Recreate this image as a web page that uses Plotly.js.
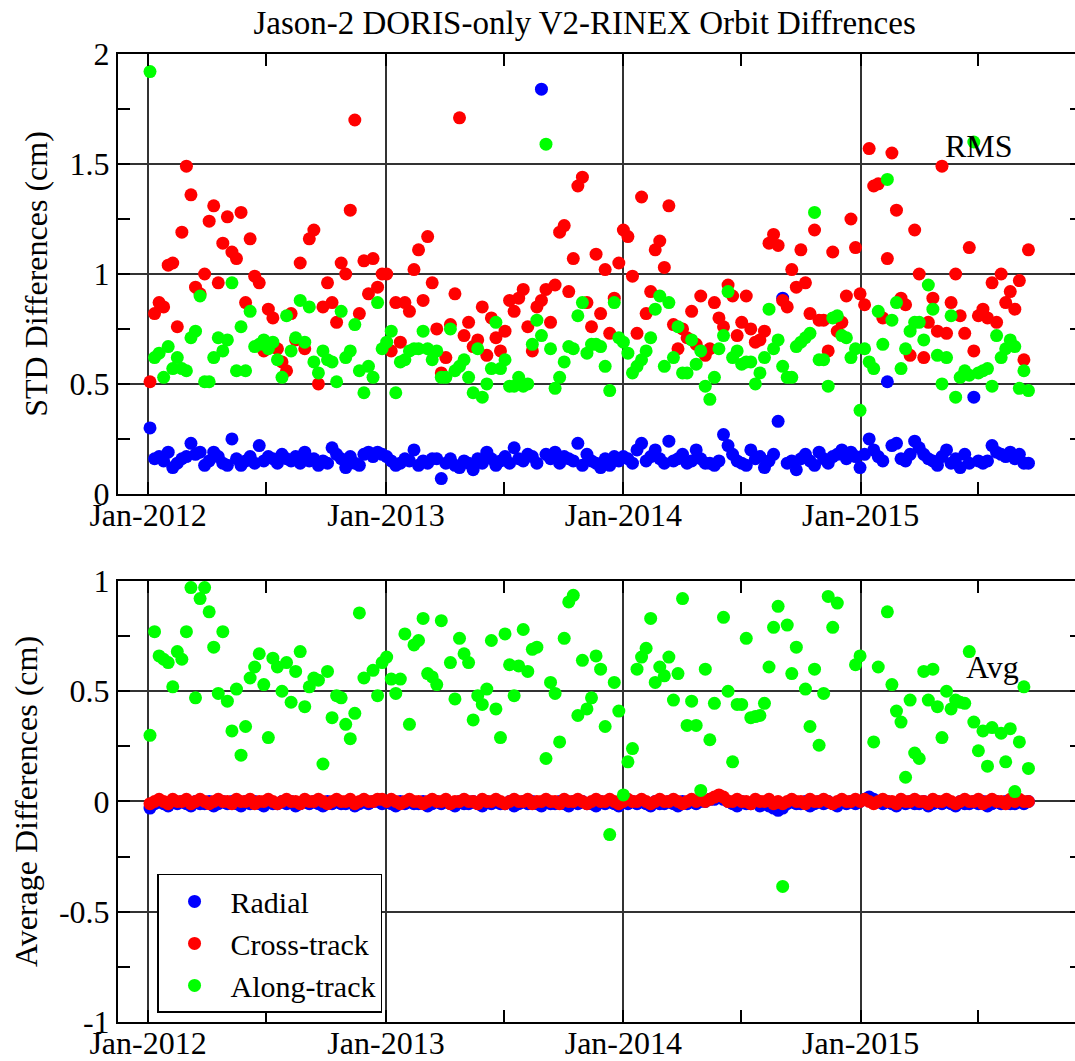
<!DOCTYPE html>
<html>
<head>
<meta charset="utf-8">
<script src="https://cdn.plot.ly/plotly-3.0.1.min.js"></script>
<style>
html,body{margin:0;padding:0;overflow:hidden;background:#fff;}
#chart{width:1084px;height:1061px;}
</style>
</head>
<body>
<div id="chart"></div>
<script>
// Weekly sample dates
const dates = [
'2012-01-04','2012-01-11','2012-01-18','2012-01-25','2012-02-01','2012-02-08','2012-02-15','2012-02-22','2012-02-29','2012-03-07',
'2012-03-14','2012-03-21','2012-03-28','2012-04-04','2012-04-11','2012-04-18','2012-04-25','2012-05-02','2012-05-09','2012-05-16',
'2012-05-23','2012-05-30','2012-06-06','2012-06-13','2012-06-20','2012-06-27','2012-07-04','2012-07-11','2012-07-18','2012-07-25',
'2012-08-01','2012-08-08','2012-08-15','2012-08-22','2012-08-29','2012-09-05','2012-09-12','2012-09-19','2012-09-26','2012-10-03',
'2012-10-10','2012-10-17','2012-10-24','2012-10-31','2012-11-07','2012-11-14','2012-11-21','2012-11-28','2012-12-05','2012-12-12',
'2012-12-19','2012-12-26','2013-01-02','2013-01-09','2013-01-16','2013-01-23','2013-01-30','2013-02-06','2013-02-13','2013-02-20',
'2013-02-27','2013-03-06','2013-03-13','2013-03-20','2013-03-27','2013-04-03','2013-04-10','2013-04-17','2013-04-24','2013-05-01',
'2013-05-08','2013-05-15','2013-05-22','2013-05-29','2013-06-05','2013-06-12','2013-06-19','2013-06-26','2013-07-03','2013-07-10',
'2013-07-17','2013-07-24','2013-07-31','2013-08-07','2013-08-14','2013-08-21','2013-08-28','2013-09-04','2013-09-11','2013-09-18',
'2013-09-25','2013-10-02','2013-10-09','2013-10-16','2013-10-23','2013-10-30','2013-11-06','2013-11-13','2013-11-20','2013-11-27',
'2013-12-04','2013-12-11','2013-12-18','2013-12-25','2014-01-01','2014-01-08','2014-01-15','2014-01-22','2014-01-29','2014-02-05',
'2014-02-12','2014-02-19','2014-02-26','2014-03-05','2014-03-12','2014-03-19','2014-03-26','2014-04-02','2014-04-09','2014-04-16',
'2014-04-23','2014-04-30','2014-05-07','2014-05-14','2014-05-21','2014-05-28','2014-06-04','2014-06-11','2014-06-18','2014-06-25',
'2014-07-02','2014-07-09','2014-07-16','2014-07-23','2014-07-30','2014-08-06','2014-08-13','2014-08-20','2014-08-27','2014-09-03',
'2014-09-10','2014-09-17','2014-09-24','2014-10-01','2014-10-08','2014-10-15','2014-10-22','2014-10-29','2014-11-05','2014-11-12',
'2014-11-19','2014-11-26','2014-12-03','2014-12-10','2014-12-17','2014-12-24','2014-12-31','2015-01-07','2015-01-14','2015-01-21',
'2015-01-28','2015-02-04','2015-02-11','2015-02-18','2015-02-25','2015-03-04','2015-03-11','2015-03-18','2015-03-25','2015-04-01',
'2015-04-08','2015-04-15','2015-04-22','2015-04-29','2015-05-06','2015-05-13','2015-05-20','2015-05-27','2015-06-03','2015-06-10',
'2015-06-17','2015-06-24','2015-07-01','2015-07-08','2015-07-15','2015-07-22','2015-07-29','2015-08-05','2015-08-12','2015-08-19',
'2015-08-26','2015-09-02','2015-09-09','2015-09-16'
];

// STD (RMS) differences, cm
const stdRadial = [
0.30,0.16,0.17,0.15,0.19,0.12,0.14,0.16,0.17,0.23, 0.18,0.19,0.13,0.15,0.19,0.17,0.14,0.13,0.25,0.16,
0.13,0.15,0.17,0.14,0.22,0.15,0.17,0.16,0.14,0.18, 0.16,0.15,0.17,0.14,0.19,0.15,0.16,0.13,0.15,0.14,
0.21,0.18,0.16,0.12,0.17,0.14,0.13,0.18,0.19,0.17, 0.19,0.18,0.17,0.15,0.13,0.14,0.16,0.15,0.20,0.13,
0.15,0.14,0.16,0.16,0.07,0.14,0.16,0.13,0.12,0.15, 0.14,0.11,0.16,0.14,0.19,0.16,0.13,0.15,0.17,0.14,
0.21,0.16,0.15,0.18,0.17,0.14,1.84,0.18,0.16,0.19, 0.14,0.17,0.16,0.15,0.23,0.13,0.18,0.15,0.14,0.12,
0.16,0.13,0.17,0.15,0.17,0.16,0.14,0.20,0.23,0.15, 0.17,0.20,0.16,0.14,0.24,0.15,0.16,0.18,0.14,0.15,
0.20,0.16,0.14,0.14,0.13,0.15,0.27,0.22,0.18,0.15, 0.14,0.13,0.20,0.16,0.17,0.12,0.15,0.18,0.33,0.89,
0.14,0.15,0.11,0.16,0.18,0.15,0.13,0.19,0.16,0.14, 0.17,0.18,0.20,0.16,0.19,0.17,0.12,0.18,0.25,0.20,
0.17,0.15,0.51,0.22,0.23,0.16,0.15,0.18,0.24,0.21, 0.18,0.16,0.15,0.13,0.17,0.20,0.14,0.16,0.12,0.18,
0.14,0.44,0.15,0.14,0.15,0.22,0.19,0.18,0.17,0.19, 0.16,0.18,0.14,0.14
];
const stdCross = [
0.51,0.82,0.87,0.85,1.04,1.05,0.76,1.19,1.49,1.36, 0.94,0.91,1.00,1.24,1.31,0.96,1.14,1.26,1.10,1.07,
1.28,0.87,1.16,0.99,0.96,0.65,0.84,0.80,0.66,0.60, 0.56,0.82,0.70,1.05,0.66,1.16,1.20,0.50,0.85,0.96,
0.87,0.78,1.05,1.00,1.29,1.70,0.82,1.06,0.91,1.07, 0.94,1.00,1.00,0.65,0.87,0.69,0.87,0.83,1.02,1.11,
0.88,1.17,0.96,0.75,0.55,0.62,0.77,0.91,1.71,0.72, 0.78,0.67,0.70,0.85,0.63,0.80,0.71,0.65,0.74,0.88,
0.83,0.89,0.93,0.76,0.65,0.85,0.88,0.93,0.78,0.95, 1.19,1.22,0.92,1.07,1.40,1.44,0.87,0.76,1.09,0.82,
1.02,0.73,0.89,1.05,1.20,1.17,0.99,0.73,1.35,0.82, 0.92,1.11,1.15,1.03,1.31,0.77,0.66,0.75,0.71,0.83,
0.68,0.90,0.63,0.66,0.87,0.80,0.76,0.95,0.90,0.72, 0.78,0.90,0.75,0.69,0.70,0.74,1.14,1.18,1.13,0.88,
0.85,1.02,0.94,1.11,0.96,0.82,1.20,0.79,0.79,0.65, 1.10,0.74,0.78,0.90,1.25,1.12,0.91,0.86,1.57,1.40,
1.41,0.80,1.07,1.55,1.29,0.89,0.86,0.63,1.20,1.00, 0.62,0.78,0.89,0.74,1.49,0.73,0.87,1.00,0.81,0.73,
1.12,0.65,0.81,0.84,0.80,0.96,0.78,1.00,0.87,0.92, 0.84,0.97,0.61,1.11
];
const stdAlong = [
1.92,0.62,0.64,0.53,0.67,0.57,0.62,0.57,0.56,0.71, 0.74,0.90,0.51,0.51,0.62,0.71,0.65,0.70,0.96,0.56,
0.76,0.56,0.83,0.67,0.68,0.70,0.66,0.69,0.61,0.53, 0.81,0.65,0.71,0.88,0.69,0.85,0.60,0.55,0.65,0.61,
0.60,0.51,0.83,0.62,0.65,0.77,0.56,0.46,0.58,0.53, 0.87,0.66,0.69,0.74,0.46,0.60,0.61,0.65,0.66,0.66,
0.74,0.66,0.61,0.65,0.53,0.53,0.75,0.56,0.58,0.61, 0.53,0.46,0.66,0.44,0.50,0.57,0.78,0.57,0.61,0.49,
0.49,0.53,0.49,0.50,0.68,0.79,0.72,1.59,0.66,0.48, 0.53,0.60,0.67,0.66,0.81,0.87,0.64,0.68,0.68,0.67,
0.58,0.47,0.87,0.71,0.69,0.64,0.55,0.58,0.61,0.65, 0.71,0.84,0.90,0.58,0.87,0.62,0.76,0.55,0.55,0.70,
0.59,0.65,0.49,0.43,0.53,0.66,0.72,0.92,0.62,0.65, 0.59,0.60,0.60,0.50,0.55,0.62,0.84,0.66,0.70,0.58,
0.53,0.53,0.67,0.69,0.71,0.73,1.28,0.61,0.61,0.49, 0.80,0.81,0.72,0.71,0.62,0.66,0.38,0.66,0.60,0.57,
0.83,0.68,1.43,0.79,0.87,0.57,0.66,0.74,0.78,0.78, 0.70,0.95,0.84,0.63,0.50,0.62,0.81,0.44,0.53,0.56,
0.54,1.60,0.55,0.56,0.57,0.49,0.72,0.62,0.66,0.70, 0.67,0.48,0.56,0.47
];

// Average differences, cm
const avgRadial = [
-0.03,-0.01,0.00,-0.01,-0.02,0.00,-0.01,0.00,-0.01,-0.02, 0.00,-0.01,-0.01,0.00,-0.02,-0.01,0.00,-0.01,0.00,-0.01,
-0.02,0.00,-0.01,0.00,-0.01,-0.02,0.00,-0.01,-0.01,0.00, -0.01,0.00,-0.02,-0.01,0.00,-0.01,0.00,-0.01,-0.02,0.00,
-0.01,0.00,-0.01,-0.01,0.00,-0.02,-0.01,0.00,-0.01,0.00, 0.00,-0.01,0.00,-0.01,-0.02,0.00,-0.01,0.00,-0.01,-0.01,
0.00,-0.02,-0.01,0.00,-0.01,0.00,-0.01,-0.02,0.00,-0.01, -0.01,0.00,-0.01,-0.02,0.00,-0.01,0.00,-0.01,-0.01,0.00,
-0.02,-0.01,0.00,-0.01,0.00,-0.01,-0.02,0.00,-0.01,-0.01, 0.00,-0.01,-0.02,0.00,-0.01,0.00,-0.01,-0.01,-0.02,0.00,
-0.01,0.00,-0.01,-0.02,0.00,-0.01,0.00,-0.01,0.00,-0.01, -0.02,0.00,-0.01,-0.01,0.00,-0.01,-0.02,0.00,-0.01,0.00,
-0.01,0.00,0.00,0.01,0.01,0.02,0.01,0.00,-0.01,-0.02, 0.00,-0.01,-0.01,0.00,-0.02,-0.01,-0.02,-0.03,-0.04,-0.03,
-0.01,0.00,-0.01,-0.01,0.00,-0.02,-0.01,0.00,-0.01,0.00, -0.01,-0.02,0.00,-0.01,0.00,-0.01,0.00,0.01,0.02,0.01,
0.00,-0.01,0.00,-0.01,-0.02,0.00,-0.01,0.00,-0.01,-0.01, 0.00,-0.02,-0.01,0.00,-0.01,0.00,-0.01,-0.02,0.00,-0.01,
-0.01,0.00,-0.01,0.00,-0.02,-0.01,0.00,-0.01,0.00,-0.01, -0.01,0.00,-0.01,0.00
];
const avgCross = [
-0.01,0.00,0.01,0.00,-0.01,0.01,0.00,0.00,0.01,-0.01, 0.00,0.01,0.00,-0.01,0.00,0.01,0.00,0.00,-0.01,0.01,
0.00,0.00,0.01,-0.01,0.00,0.00,0.01,0.00,-0.01,0.00, 0.01,0.00,0.00,-0.01,0.01,0.00,0.00,0.01,0.00,-0.01,
0.00,0.01,0.00,0.00,0.01,-0.01,0.00,0.01,0.00,0.00, 0.01,0.01,0.00,0.01,0.00,-0.01,0.00,0.01,0.00,0.00,
-0.01,0.00,0.01,0.00,0.00,0.01,-0.01,0.00,0.00,0.01, 0.00,0.00,-0.01,0.01,0.00,0.00,0.01,0.00,-0.01,0.00,
0.01,0.00,0.00,0.01,-0.01,0.00,0.00,0.01,0.00,0.00, -0.01,0.01,0.00,0.00,0.01,0.00,-0.01,0.00,0.01,0.00,
0.00,0.01,0.00,-0.01,0.00,0.01,0.00,0.00,0.01,0.00, -0.01,0.00,0.01,0.00,0.00,0.01,0.00,-0.01,0.00,0.01,
0.00,0.01,0.00,0.01,0.02,0.03,0.02,0.00,0.00,0.01, 0.00,0.00,-0.01,0.01,0.00,0.00,0.01,-0.01,0.00,-0.01,
0.00,0.01,0.00,0.00,-0.01,0.01,0.00,0.00,0.01,0.00, -0.01,0.00,0.01,0.00,0.00,0.01,0.00,0.01,0.00,-0.01,
0.00,0.01,0.00,0.00,-0.01,0.01,0.00,0.00,0.01,0.00, 0.00,-0.01,0.01,0.00,0.00,0.01,0.00,-0.01,0.00,0.01,
0.00,0.00,0.01,-0.01,0.00,0.01,0.00,0.00,-0.01,0.01, 0.00,0.01,0.00,0.00
];
const avgAlong = [
0.30,0.77,0.66,0.645,0.63,0.52,0.68,0.645,0.77,0.97, 0.47,0.92,0.97,0.86,0.70,0.49,0.77,0.455,0.32,0.51,
0.21,0.34,0.56,0.61,0.67,0.53,0.29,0.65,0.61,0.50, 0.63,0.45,0.59,0.68,0.43,0.52,0.56,0.55,0.17,0.59,
0.38,0.48,0.47,0.35,0.285,0.40,0.855,0.56,null,0.595, 0.48,0.63,0.655,0.555,0.49,0.555,0.76,0.35,0.71,0.73,
0.83,0.58,0.565,0.53,0.82,null,0.63,0.465,0.74,0.67, 0.63,0.37,0.48,0.44,0.51,0.73,0.42,0.29,0.76,0.62,
0.48,0.615,0.78,0.59,0.69,0.70,null,0.195,0.54,0.49, 0.27,0.74,0.905,0.935,0.39,0.64,0.42,0.47,0.66,0.60,
0.34,-0.15,0.54,0.41,0.03,0.18,0.24,0.60,0.655,0.695, 0.83,0.54,0.61,0.57,0.655,0.46,0.58,0.92,0.345,0.455,
0.345,0.05,0.60,0.28,0.445,null,0.835,0.50,0.18,0.44, 0.44,0.74,0.38,0.385,0.39,0.445,0.61,0.79,0.885,-0.385,
0.80,0.58,0.70,null,0.51,0.34,0.60,0.255,0.49,0.93, 0.79,0.90,null,null,null,0.62,0.66,null,null,0.27,
0.61,null,0.86,0.53,0.41,0.36,0.11,0.46,0.22,0.195, 0.59,0.46,0.60,0.43,0.29,0.50,0.42,0.46,0.45,0.445,
0.68,0.36,0.23,0.32,0.16,0.335,null,0.31,0.18,0.33, 0.045,0.27,0.52,0.15
];

const seriesNames = ['Radial','Cross-track','Along-track'];
const seriesColors = ['#0000ff','#ff0000','#00ff00'];
const yearTicks = ['2012-01-01','2013-01-01','2014-01-01','2015-01-01'];
const midYearTicks = ['2012-07-01','2013-07-01','2014-07-01','2015-07-01'];
const stdTicks = [0,0.5,1,1.5,2];
const stdTickText = ['0','0.5','1','1.5','2'];
const avgTickVals = [-1,-0.5,0,0.5,1];
const avgTickText = ['-1','-0.5','0','0.5','1'];

const FONT = 'Liberation Serif, Times New Roman, serif';
const topData = [stdRadial, stdCross, stdAlong];
const botData = [avgRadial, avgCross, avgAlong];

const traces = [];
for (let k = 0; k < 3; k++) {
  traces.push({
    x: dates, y: topData[k], type: 'scatter', mode: 'markers',
    name: seriesNames[k], legendgroup: seriesNames[k], showlegend: false,
    marker: {color: seriesColors[k], size: 13},
    xaxis: 'x', yaxis: 'y'
  });
}
for (let k = 0; k < 3; k++) {
  traces.push({
    x: dates, y: botData[k], type: 'scatter', mode: 'markers',
    name: seriesNames[k], legendgroup: seriesNames[k], showlegend: true,
    marker: {color: seriesColors[k], size: 13},
    xaxis: 'x2', yaxis: 'y2'
  });
}

const xRange = ['2011-11-15 19:00', '2015-12-07 08:00'];
function xAxis(anchor) {
  return {
    anchor: anchor, domain: [0, 1], type: 'date', range: xRange,
    tickmode: 'array', tickvals: yearTicks, tickformat: '%b-%Y',
    ticks: 'inside', ticklen: 12, tickwidth: 2, tickcolor: '#000',
    ticklabelstandoff: -8,
    showgrid: true, gridcolor: '#333', gridwidth: 2,
    showline: true, linecolor: '#000', linewidth: 2, mirror: 'ticks',
    zeroline: false,
    tickfont: {family: FONT, size: 32, color: '#000'},
    minor: {tickmode: 'array', tickvals: midYearTicks, ticks: 'inside', ticklen: 12, tickwidth: 2, tickcolor: '#000', showgrid: false}
  };
}
function yAxis(anchor, domain, range, tickvals, ticktext, title) {
  return {
    anchor: anchor, domain: domain, range: range,
    tickmode: 'array', tickvals: tickvals, ticktext: ticktext,
    ticks: 'inside', ticklen: 12, tickwidth: 2, tickcolor: '#000',
    showgrid: true, gridcolor: '#333', gridwidth: 2,
    showline: true, linecolor: '#000', linewidth: 2, mirror: 'ticks',
    zeroline: false,
    tickfont: {family: FONT, size: 32, color: '#000'},
    title: {text: title, font: {family: FONT, size: 32, color: '#000'}, standoff: 12},
    minor: {dtick: 0.25, tick0: 0, ticks: 'inside', ticklen: 12, tickwidth: 2, tickcolor: '#000', showgrid: false}
  };
}

const layout = {
  width: 1084, height: 1061,
  margin: {l: 118, r: 2, t: 54, b: 39},
  paper_bgcolor: '#fff', plot_bgcolor: '#fff',
  font: {family: FONT, size: 32, color: '#000'},
  title: {text: 'Jason-2 DORIS-only V2-RINEX Orbit Diffrences',
          font: {family: FONT, size: 33, color: '#000'},
          x: 0.484, xref: 'paper', xanchor: 'center', y: 0.979, yref: 'container', yanchor: 'middle'},
  showlegend: true,
  legend: {x: 0.0405, y: 0.153, xanchor: 'left', yanchor: 'top',
           bgcolor: '#fff', bordercolor: '#000', borderwidth: 1.5,
           font: {family: FONT, size: 30, color: '#000'}, itemwidth: 62, tracegroupgap: 0},
  xaxis: xAxis('y'),
  xaxis2: xAxis('y2'),
  yaxis: yAxis('x', [0.5455, 1], [0, 2], stdTicks, stdTickText, 'STD Differences (cm)'),
  yaxis2: yAxis('x2', [0, 0.4556], [-1, 1], avgTickVals, avgTickText, 'Average Differences (cm)'),
  annotations: [
    {text: 'RMS', xref: 'paper', yref: 'paper', x: 0.893, y: 0.905, xanchor: 'center', yanchor: 'middle',
     showarrow: false, font: {family: FONT, size: 32, color: '#000'}},
    {text: 'Avg', xref: 'paper', yref: 'paper', x: 0.907, y: 0.367, xanchor: 'center', yanchor: 'middle',
     showarrow: false, font: {family: FONT, size: 32, color: '#000'}}
  ],
  hovermode: false
};

Plotly.newPlot('chart', traces, layout, {staticPlot: true, displayModeBar: false});
</script>
</body>
</html>
